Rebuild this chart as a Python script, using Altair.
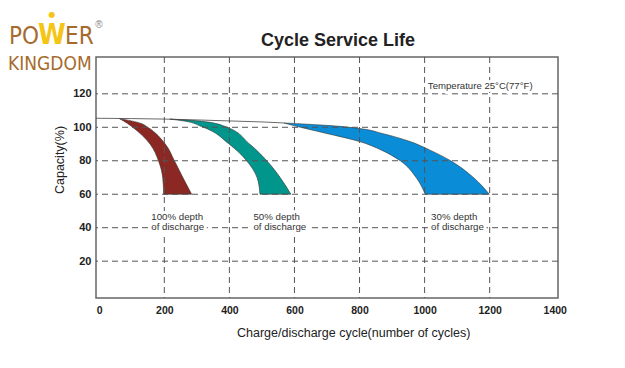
import altair as alt
import pandas as pd

# ---------------- data ----------------
# 100% depth of discharge (red band): capacity level -> left / right edge (cycles)
red_cap = [105.3, 102.3, 100.0, 90.0, 80.0, 70.0, 60.0]
red_left = [61, 87, 103, 156, 182, 195, 198]
red_right = [61, 129, 149, 203, 231, 257, 284]

# 50% depth of discharge (teal band)
teal_cap = [104.9, 103.7, 100.5, 90.0, 80.0, 70.0, 60.0]
teal_left = [217, 262, 314, 399, 453, 485, 494]
teal_right = [217, 310, 387, 462, 515, 556, 589]

# 30% depth of discharge (blue band)
blue_cap = [102.6, 101.0, 99.0, 96.5, 91.5, 86.5, 80.0, 70.0, 60.0]
blue_left = [567, 598, 640, 695, 800, 866, 925, 974, 1002]
blue_right = [567, 710, 810, 866, 955, 1015, 1080, 1150, 1199]

# thin reference line along the top
trend_cycles = [-10, 100, 200, 300, 400, 500, 567]
trend_cap = [105.4, 105.2, 104.9, 104.4, 103.8, 103.2, 102.6]

x_ticks = [0, 200, 400, 600, 800, 1000, 1200, 1400]
y_ticks = [20, 40, 60, 80, 100, 120]
grid_x = [200, 400, 600, 800, 1000, 1200]
grid_y = [20, 40, 60, 80, 100, 120]

label_x = [160, 474, 1020]
label_line1 = ["100% depth", "50% depth", "30% depth"]
label_line2 = ["of discharge", "of discharge", "of discharge"]
label_y1 = 44.6
label_y2 = 38.7

temp_text = ["Temperature 25°C(77°F)"]
temp_x = [1010]
temp_y = [122.7]

FONT = "Liberation Sans, Arial, sans-serif"
NARROW = "Liberation Sans Narrow, DejaVu Sans Condensed, Arial Narrow, sans-serif"
BROWN = "#a66b2c"
GOLD = "#f5c515"

# ---------------- tables ----------------
bands = pd.concat([
    pd.DataFrame({"cap": red_cap, "left": red_left, "right": red_right, "band": "100%"}),
    pd.DataFrame({"cap": teal_cap, "left": teal_left, "right": teal_right, "band": "50%"}),
    pd.DataFrame({"cap": blue_cap, "left": blue_left, "right": blue_right, "band": "30%"}),
], ignore_index=True)

trend = pd.DataFrame({"cycles": trend_cycles, "cap": trend_cap})
gx = pd.DataFrame({"v": grid_x})
gy = pd.DataFrame({"v": grid_y})
labels = pd.DataFrame({
    "x": label_x * 2,
    "y": [label_y1] * 3 + [label_y2] * 3,
    "t": label_line1 + label_line2,
})
temp = pd.DataFrame({"x": temp_x, "y": temp_y, "t": temp_text})

xscale = alt.Scale(domain=[-10, 1410], nice=False, zero=False)
yscale = alt.Scale(domain=[-2, 142], nice=False, zero=False)

xaxis = alt.Axis(values=x_ticks, grid=False, ticks=False, domain=False, title=None,
                 format="d", labelFont=FONT, labelFontWeight="bold", labelFontSize=10.5,
                 labelColor="#222", labelPadding=7, labelFlush=False)
yaxis = alt.Axis(values=y_ticks, grid=False, ticks=False, domain=False, title=None,
                 format="d", labelFont=FONT, labelFontWeight="bold", labelFontSize=11,
                 labelColor="#222", labelPadding=5)

area = alt.Chart(bands).mark_area(
    orient="horizontal", interpolate="monotone", stroke="#333", strokeWidth=0.6
).encode(
    y=alt.Y("cap:Q", scale=yscale, axis=yaxis),
    x=alt.X("left:Q", scale=xscale, axis=xaxis),
    x2="right:Q",
    color=alt.Color("band:N", legend=None,
                    scale=alt.Scale(domain=["100%", "50%", "30%"],
                                    range=["#8c2823", "#00968c", "#0a8cd7"])),
    detail="band:N",
)

line = alt.Chart(trend).mark_line(color="#444", strokeWidth=0.8).encode(
    x=alt.X("cycles:Q", scale=xscale), y=alt.Y("cap:Q", scale=yscale)
)

rx = alt.Chart(gx).mark_rule(color="#555", strokeWidth=1, strokeDash=[6, 4]).encode(
    x=alt.X("v:Q", scale=xscale)
)
ry = alt.Chart(gy).mark_rule(color="#555", strokeWidth=1, strokeDash=[6, 4]).encode(
    y=alt.Y("v:Q", scale=yscale)
)

def txt(df, size, halo):
    base = dict(align="left", baseline="alphabetic", font=FONT, fontSize=size)
    if halo:
        m = alt.Chart(df).mark_text(color="white", stroke="white", strokeWidth=6,
                                    strokeJoin="round", **base)
    else:
        m = alt.Chart(df).mark_text(color="#333", **base)
    return m.encode(x=alt.X("x:Q", scale=xscale), y=alt.Y("y:Q", scale=yscale), text="t:N")

one = pd.DataFrame({"k": [0]})

def deco(text, x, y, size, color, font=FONT, weight="normal", align="left", angle=0):
    kw = dict(align=align, baseline="alphabetic", font=font, fontSize=size,
              fontWeight=weight, color=color)
    if angle:
        kw["angle"] = angle
    return alt.Chart(one).mark_text(**kw).encode(
        x=alt.value(x), y=alt.value(y), text=alt.value(text)
    )

title = deco("Cycle Service Life", 242, -11, 18, "#222", weight="bold", align="center")
xtitle = deco("Charge/discharge cycle(number of cycles)", 141, 280, 12.5, "#222")
ytitle = deco("Capacity(%)", -32, 103, 12.5, "#222", align="center", angle=270)

logo = [
    deco("PO", -57, -13, 24, BROWN, font=NARROW, align="right"),
    deco("W", -44, -13, 28, GOLD, font=NARROW, weight="bold", align="center"),
    deco("●", -44, -40, 8, GOLD, font="DejaVu Sans", align="center"),
    deco("ER", -31, -13, 24, BROWN, font=NARROW),
    deco("KINGDOM", -88, 13, 19, BROWN, font=NARROW),
    deco("®", 3, -29, 10, "#888", align="center"),
]

chart = alt.layer(
    area, rx, ry, line,
    txt(labels, 9.7, True), txt(labels, 9.7, False),
    txt(temp, 9.6, True), txt(temp, 9.6, False),
    title, xtitle, ytitle, *logo,
).properties(
    width=462, height=241,
    padding={"left": 88, "top": 49, "right": 59, "bottom": 55},
    autosize=alt.AutoSizeParams(type="none"),
    background="white",
).configure_view(stroke="#666", strokeWidth=1.5)

chart.save("out.html", embed_options={"renderer": "svg", "actions": False})
